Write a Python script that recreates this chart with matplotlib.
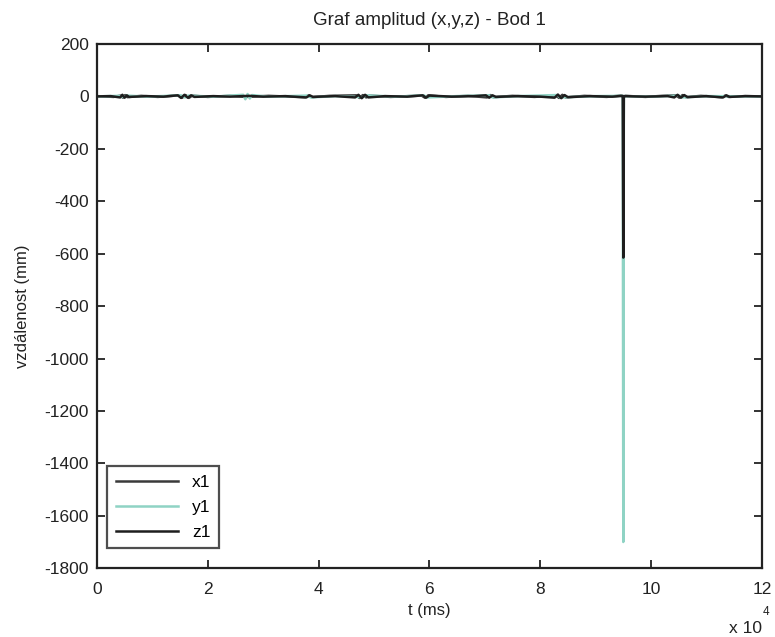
import matplotlib
matplotlib.use("Agg")
import matplotlib.pyplot as plt
from matplotlib.ticker import FuncFormatter, MultipleLocator

plt.rcParams['font.family'] = ['Liberation Sans', 'DejaVu Sans']
plt.rcParams['axes.unicode_minus'] = False

# (cas v ms, amplituda v mm) pro jednotlive osy bodu 1
x1_pts = [(0, 1), (3000, -2), (4300, 3), (4700, -5), (5100, 5), (5500, -3), (8000, 2),
          (11000, -2), (14800, 4), (15400, -5), (16000, 5), (16600, -6), (17200, 3),
          (20000, -2), (24000, 2), (27000, -2), (31000, 2), (37600, -3), (38200, 4),
          (38800, -3), (42000, 2), (46800, 4), (47400, -6), (48000, 5), (48600, -4),
          (49200, 3), (53000, -2), (58600, 3), (59200, -5), (59800, 4), (63000, -2),
          (67000, 2), (70400, -4), (71000, 5), (71600, -3), (75000, 2), (79000, -2),
          (82800, 4), (83400, -6), (84000, 6), (84600, -4), (88000, 2), (92000, -2),
          (94600, 3), (95000, -4), (95400, 2), (99000, -2), (102000, 2), (104500, 4),
          (105100, -5), (105700, 5), (106300, -3), (109000, 2), (112800, -3),
          (113400, 3), (114000, -2), (117000, 1), (120000, 0)]

y1_pts = [(0, 0), (4000, 2), (4800, -3), (5400, 3), (9000, -1), (15200, 4), (15900, -4),
          (16500, 3), (21000, -1), (26400, 6), (26800, -11), (27200, 9), (27600, -8),
          (28000, 5), (31000, -1), (38000, 3), (38600, -4), (43000, 1), (48000, -3),
          (48600, 4), (54000, -1), (59000, 4), (59600, -4), (65000, 1), (70800, 4),
          (71400, -4), (76000, 1), (83000, 5), (83600, -4), (90000, 1), (94900, 2),
          (95000, -1700), (95100, 1), (100000, -1), (105000, 3), (105600, -4),
          (110000, 1), (120000, 0)]

z1_pts = [(0, 0), (2500, 1), (4200, -4), (4600, 6), (5000, -5), (5400, 4), (5800, -2),
          (9000, 1), (12000, -1), (14600, 4), (15200, -6), (15800, 6), (16400, -5),
          (17000, 4), (17600, -2), (21000, 1), (24000, -1), (27500, 2), (30000, -1),
          (34000, 1), (37800, -4), (38400, 4), (39000, -2), (43000, 1), (46600, -4),
          (47200, 6), (47800, -7), (48400, 6), (49000, -4), (52000, 1), (56000, -1),
          (58800, 4), (59400, -5), (60000, 3), (64000, -1), (68000, 1), (70200, 4),
          (70800, -5), (71400, 4), (72000, -2), (76000, 1), (80000, -1), (82600, -5),
          (83200, 7), (83800, -7), (84400, 5), (85000, -3), (89000, 1), (93000, -1),
          (94900, 2), (95000, -615), (95100, 1), (99000, -1), (103000, 1), (104200, -4),
          (104800, 6), (105400, -5), (106000, 5), (106600, -3), (110000, 1),
          (113000, -4), (113600, 4), (114200, -2), (117000, 1), (120000, 0)]

series = [("x1", x1_pts, "#3a3a3a"),
          ("y1", y1_pts, "#8fd3c4"),
          ("z1", z1_pts, "#1e1e1e")]

fig = plt.figure(figsize=(7.75, 6.37), dpi=100)
ax = fig.add_axes([0.125, 0.108, 0.858, 0.823])

for name, pts, col in series:
    t, v = zip(*pts)
    ax.plot(t, v, color=col, lw=1.8, label=name)

ax.set_xlim(0, 120000)
ax.set_ylim(-1800, 200)
ax.xaxis.set_major_locator(MultipleLocator(20000))
ax.yaxis.set_major_locator(MultipleLocator(200))
ax.xaxis.set_major_formatter(FuncFormatter(lambda v, p: "%g" % (v / 1e4)))
ax.tick_params(direction="in", top=True, right=True, length=6, width=1.3,
               labelsize=12.5, colors="#222222")
ax.tick_params(axis="x", pad=10)
ax.tick_params(axis="y", pad=6)
for s in ax.spines.values():
    s.set_linewidth(1.6)
    s.set_color("#222222")

ax.set_title("Graf amplitud (x,y,z) - Bod 1", fontsize=13.5, color="#222222", pad=14)
ax.set_xlabel("t (ms)", fontsize=12, color="#222222", labelpad=4)
ax.set_ylabel("vzdálenost (mm)", fontsize=12, color="#222222", labelpad=10)

fig.text(0.983, 0.002, "x 10", ha="right", va="bottom", fontsize=12.5, color="#222222")
fig.text(0.984, 0.03, "4", ha="left", va="bottom", fontsize=8.5, color="#222222")

leg = ax.legend(loc="lower left", bbox_to_anchor=(0.015, 0.038), borderaxespad=0,
                fontsize=12.5, frameon=True, fancybox=False, edgecolor="#222222",
                handlelength=3.6, labelspacing=0.55, handletextpad=0.8, borderpad=0.5)
leg.get_frame().set_linewidth(1.6)

fig.savefig("out.png", dpi=100)
